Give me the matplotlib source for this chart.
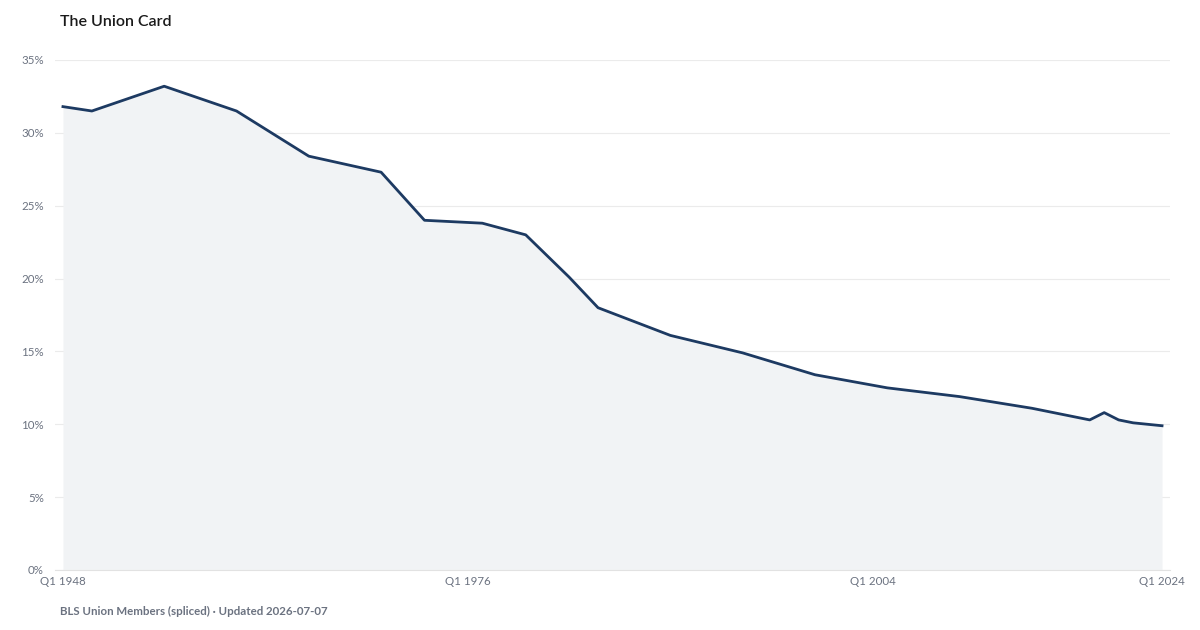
import matplotlib
matplotlib.use("Agg")
import matplotlib.pyplot as plt
from matplotlib.ticker import FuncFormatter

years = [1948, 1950, 1955, 1960, 1965, 1970, 1973, 1977, 1980, 1983, 1985,
         1990, 1995, 2000, 2005, 2010, 2015, 2019, 2020, 2021, 2022, 2023, 2024]
density = [31.8, 31.5, 33.2, 31.5, 28.4, 27.3, 24.0, 23.8, 23.0, 20.1, 18.0,
           16.1, 14.9, 13.4, 12.5, 11.9, 11.1, 10.3, 10.8, 10.3, 10.1, 10.0, 9.9]
x_tick_years = [1948, 1976, 2004, 2024]
x_tick_labels = ["Q1 1948", "Q1 1976", "Q1 2004", "Q1 2024"]
y_ticks = [0, 5, 10, 15, 20, 25, 30, 35]

plt.rcParams['font.family'] = ['Lato', 'DejaVu Sans']

fig = plt.figure(figsize=(12, 6.3), dpi=100)
ax = fig.add_axes([55/1200, 1 - 570/630, (1170 - 55)/1200, 510/630])

ax.fill_between(years, density, 0, color="#f1f3f5", linewidth=0, zorder=1)
ax.plot(years, density, color="#1d3a62", linewidth=2.0, solid_joinstyle="round", zorder=3)

ax.set_xlim(1947.45, 2024.55)
ax.set_ylim(0, 35)
ax.set_yticks(y_ticks)
ax.yaxis.set_major_formatter(FuncFormatter(lambda v, p: f"{int(v)}%"))
ax.set_xticks(x_tick_years)
ax.set_xticklabels(x_tick_labels)

ax.grid(axis="y", color="#ebebeb", linewidth=0.8, zorder=0)
ax.grid(axis="x", visible=False)
ax.set_axisbelow(True)
for s in ["top", "right", "left"]:
    ax.spines[s].set_visible(False)
ax.spines["bottom"].set_color("#e2e2e2")
ax.spines["bottom"].set_linewidth(0.8)

ax.tick_params(axis="both", length=0, labelsize=8.3, labelcolor="#6b7280")
ax.tick_params(axis="y", pad=8)
ax.tick_params(axis="x", pad=4)

fig.text(60/1200, 1 - 22/630, "The Union Card", fontsize=11.5, fontweight="semibold",
         color="#1a1a1a", ha="left", va="center")
fig.text(60/1200, 1 - 611/630, "BLS Union Members (spliced) · Updated 2026-07-07",
         fontsize=8.3, fontweight="bold", color="#6b7280", ha="left", va="center")

fig.savefig("out.png", dpi=100, facecolor="white")
